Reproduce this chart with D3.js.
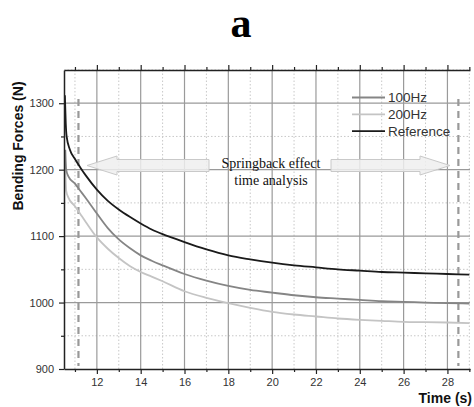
<!DOCTYPE html>
<html><head><meta charset="utf-8">
<script src="https://cdn.jsdelivr.net/npm/d3@7"></script>
<style>body{margin:0;background:#fff}svg{display:block}</style>
</head><body>
<svg id="c" width="474" height="407"></svg>
<script>
const title = "a";
const yLabel = "Bending Forces (N)";
const xLabel = "Time (s)";
const xMajorTicks = [12,14,16,18,20,22,24,26,28];
const xMinorTicks = [11,13,15,17,19,21,23,25,27,29];
const yMajorTicks = [900,1000,1100,1200,1300];
const yMinorTicks = [950,1050,1150,1250,1350];
const seriesNames = ["100Hz","200Hz","Reference"];
const seriesColors = ["#858585","#c4c4c4","#1a1a1a"];
const timeRef = [10.54,10.58,10.62,10.77,11,11.25,11.5,12,12.5,13,13.5,14,14.5,15,15.5,16,17,18,19,20,21,22,23,24,25,26,27,28,29];
const valRef  = [1312,1270,1250,1230,1216,1203,1191,1170,1153,1140,1129,1119,1110,1103,1097,1091,1080,1071,1065,1060,1056,1053,1050,1048,1046,1045,1044,1043,1042];
const time100 = [10.56,10.6,10.7,11,11.25,11.5,12,12.5,13,13.5,14,14.5,15,16,17,18,19,20,21,22,23,24,25,26,27,28,29];
const val100  = [1230,1200,1190,1179,1168,1157,1134,1112,1095,1082,1071,1063,1056,1043,1033,1025,1019,1015,1011,1008,1006,1004,1002,1001,1000,999,998.5];
const time200 = [10.56,10.6,10.7,11,11.25,11.5,12,12.5,13,13.5,14,14.5,15,16,17,18,19,20,21,22,23,24,25,26,27,28,29];
const val200  = [1205,1168,1158,1145,1133,1121,1098,1081,1067,1055,1046,1039,1032,1017,1007,999,992,986,982,979,976,974,972.5,971,970.5,970,969];
const markerTimes = [11.16, 28.5];
const annotLines = ["Springback effect","time analysis"];

const svg = d3.select("#c");
const x = d3.scaleLinear().domain([10.5, 29.03]).range([64, 470]);
const y = d3.scaleLinear().domain([900, 1350]).range([369, 70]);
const x0 = x.range()[0], x1 = x.range()[1], y0 = y.range()[0], y1 = y.range()[1];

// grid
const g = svg.append("g");
g.selectAll(".vmin").data(xMinorTicks).join("line")
  .attr("x1", d=>x(d)).attr("x2", d=>x(d)).attr("y1", y0).attr("y2", y1)
  .attr("stroke", "#c8c8c8").attr("stroke-width", 1).attr("stroke-dasharray", "1.5,2");
g.selectAll(".hmin").data(yMinorTicks).join("line")
  .attr("x1", x0).attr("x2", x1).attr("y1", d=>y(d)).attr("y2", d=>y(d))
  .attr("stroke", "#c8c8c8").attr("stroke-width", 1).attr("stroke-dasharray", "1.5,2");
g.selectAll(".vmaj").data(xMajorTicks).join("line")
  .attr("x1", d=>x(d)).attr("x2", d=>x(d)).attr("y1", y0).attr("y2", y1)
  .attr("stroke", "#9a9a9a").attr("stroke-width", 1.2);
g.selectAll(".hmaj").data(yMajorTicks.filter(d=>d>900)).join("line")
  .attr("x1", x0).attr("x2", x1).attr("y1", d=>y(d)).attr("y2", d=>y(d))
  .attr("stroke", "#9a9a9a").attr("stroke-width", 1.2);

// dashed markers
svg.selectAll(".mk").data(markerTimes).join("line")
  .attr("x1", d=>x(d)).attr("x2", d=>x(d)).attr("y1", 99).attr("y2", 366)
  .attr("stroke", "#999").attr("stroke-width", 2.2).attr("stroke-dasharray", "7,5");

// curves
const line = d3.line().x(d=>x(d[0])).y(d=>y(d[1])).curve(d3.curveMonotoneX);
const series = [d3.zip(time100, val100), d3.zip(time200, val200), d3.zip(timeRef, valRef)];
[1,0,2].forEach(i => {
  svg.append("path").datum(series[i]).attr("d", line)
    .attr("fill", "none").attr("stroke", seriesColors[i]).attr("stroke-width", 1.8);
});

// double arrow (two halves separated by text box)
const ay = 165.5;
function arrow(tipX, endX) {
  const dir = Math.sign(endX - tipX);
  const hl = 30, hh = 9.5, sh = 6;
  const hx = tipX + dir*hl;
  const pts = [[tipX, ay],[hx, ay-hh],[hx, ay-sh],[endX, ay-sh],[endX, ay+sh],[hx, ay+sh],[hx, ay+hh]];
  svg.append("path").attr("d", "M" + pts.map(p=>p.join(",")).join("L") + "Z")
    .attr("fill", "#eeeeee").attr("fill-opacity", 0.85).attr("stroke", "#c9c9c9").attr("stroke-width", 1);
}
arrow(87, 209);
arrow(450, 331);

svg.append("g").selectAll("text").data(annotLines).join("text")
  .attr("x", 271).attr("y", (d,i)=>168 + i*17).attr("text-anchor", "middle")
  .attr("font-family", "'Liberation Serif','Times New Roman',serif").attr("font-size", 14)
  .attr("fill", "#111").text(d=>d);

// axes
const axisColor = "#222";
function styleAxis(sel){ sel.select(".domain").attr("stroke", axisColor).attr("stroke-width", 1.5);
  sel.selectAll(".tick line").attr("stroke", axisColor).attr("stroke-width", 1.2);
  sel.selectAll(".tick text").attr("fill", "#333").attr("font-family", "Arial, 'Liberation Sans', sans-serif").attr("font-size", 11); }
function minor(sel){ sel.select(".domain").remove(); sel.selectAll("line").attr("stroke", axisColor).attr("stroke-width",1.2); }

const axB = svg.append("g").attr("transform", `translate(0,${y0})`)
  .call(d3.axisBottom(x).tickValues(xMajorTicks).tickSize(5).tickSizeOuter(0).tickPadding(4).tickFormat(d3.format("d")));
styleAxis(axB);
svg.append("g").attr("transform", `translate(0,${y0})`)
  .call(d3.axisBottom(x).tickValues(xMinorTicks).tickSize(3).tickSizeOuter(0).tickFormat(""))
  .call(minor);

const axT = svg.append("g").attr("transform", `translate(0,${y1})`)
  .call(d3.axisTop(x).tickValues(xMajorTicks).tickSize(5).tickSizeOuter(0).tickFormat(""));
styleAxis(axT);
svg.append("g").attr("transform", `translate(0,${y1})`)
  .call(d3.axisTop(x).tickValues(xMinorTicks).tickSize(3).tickSizeOuter(0).tickFormat(""))
  .call(minor);

const axL = svg.append("g").attr("transform", `translate(${x0},0)`)
  .call(d3.axisLeft(y).tickValues(yMajorTicks).tickSize(5).tickSizeOuter(0).tickPadding(5).tickFormat(d3.format("d")));
styleAxis(axL);
svg.append("g").attr("transform", `translate(${x0},0)`)
  .call(d3.axisLeft(y).tickValues(yMinorTicks.filter(d=>d<1350)).tickSize(3).tickSizeOuter(0).tickFormat(""))
  .call(minor);

// legend
const lg = svg.append("g");
seriesNames.forEach((n,i)=>{
  const ly = 97.5 + i*16.8;
  lg.append("line").attr("x1", 352).attr("x2", 385).attr("y1", ly).attr("y2", ly)
    .attr("stroke", seriesColors[i]).attr("stroke-width", 1.8);
  lg.append("text").attr("x", 388).attr("y", ly+4.5).attr("font-family", "Arial, 'Liberation Sans', sans-serif")
    .attr("font-size", 13.5).attr("fill", "#333").text(n);
});

// labels
svg.append("text").attr("x", 241).attr("y", 37).attr("text-anchor", "middle")
  .attr("font-family", "'Liberation Serif','Times New Roman',serif").attr("font-weight", "bold")
  .attr("font-size", 42).attr("fill", "#000").text(title);
svg.append("text").attr("transform", "translate(23,146) rotate(-90)").attr("text-anchor", "middle")
  .attr("font-family", "Arial, 'Liberation Sans', sans-serif").attr("font-weight", "bold")
  .attr("font-size", 14).attr("fill", "#111").text(yLabel);
svg.append("text").attr("x", 472).attr("y", 403).attr("text-anchor", "end")
  .attr("font-family", "Arial, 'Liberation Sans', sans-serif").attr("font-weight", "bold")
  .attr("font-size", 14).attr("fill", "#111").text(xLabel);
</script>
</body></html>
